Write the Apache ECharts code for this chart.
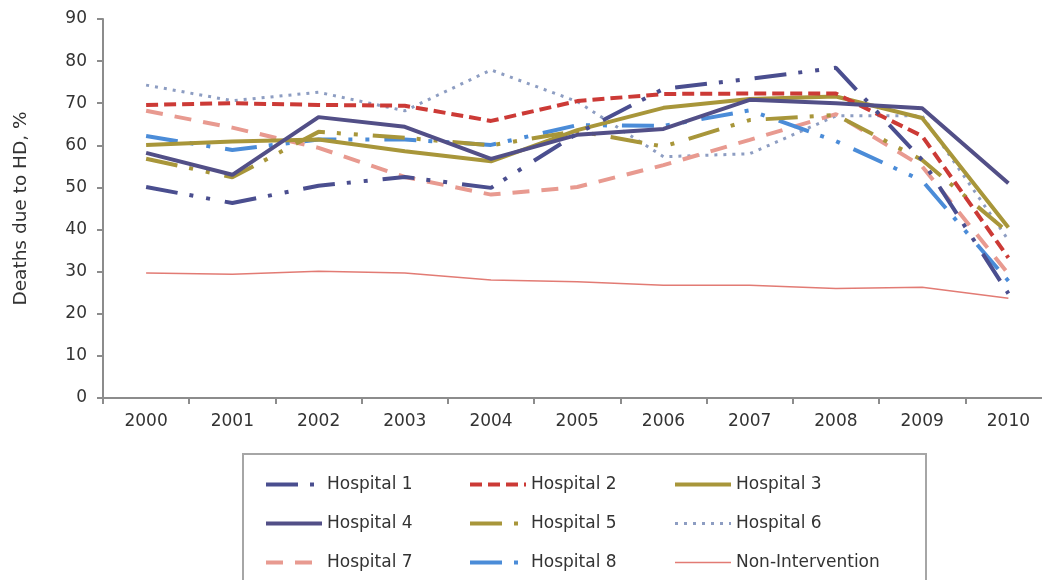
<!DOCTYPE html>
<html>
<head>
    <meta charset="UTF-8">
    <title>Deaths due to HD</title>
    <script type="text/javascript" src="https://cdn.jsdelivr.net/npm/echarts@6/dist/echarts.min.js"></script>
    <style type="text/css">
        body { margin: 0; background: #fff; }
        #main { width: 1042px; height: 580px; }
    </style>
</head>
<body>
<div id="main"></div>
<script>
// 数据
var years = ['2000', '2001', '2002', '2003', '2004', '2005', '2006', '2007', '2008', '2009', '2010'];
var yTicks = [0, 10, 20, 30, 40, 50, 60, 70, 80, 90];
var hospital1 = [50.1, 46.3, 50.4, 52.5, 49.9, 62.8, 73.4, 75.8, 78.4, 56.5, 24.8];
var hospital2 = [69.6, 70.0, 69.6, 69.4, 65.8, 70.5, 72.2, 72.3, 72.3, 62.2, 33.3];
var hospital3 = [60.1, 60.9, 61.4, 58.6, 56.2, 63.6, 68.9, 71.0, 71.6, 66.5, 40.5];
var hospital4 = [58.2, 53.0, 66.7, 64.4, 56.8, 62.5, 63.9, 70.8, 70.0, 68.8, 51.0];
var hospital5 = [56.8, 52.4, 63.2, 61.8, 60.0, 63.4, 59.7, 66.0, 67.2, 56.5, 39.3];
var hospital6 = [74.3, 70.6, 72.6, 68.2, 77.9, 70.4, 57.3, 58.0, 67.0, 67.0, 37.5];
var hospital7 = [68.2, 64.2, 59.4, 52.5, 48.3, 50.1, 55.3, 61.3, 67.4, 55.0, 29.5];
var hospital8 = [62.2, 58.9, 61.4, 61.4, 60.1, 64.8, 64.6, 68.3, 61.0, 51.6, 27.8];
var nonIntervention = [29.7, 29.4, 30.1, 29.7, 28.0, 27.6, 26.8, 26.8, 26.0, 26.3, 23.7];

var font = 'DejaVu Sans, Verdana, sans-serif';
var dashDotDot = [32, 12, 4, 13, 4, 15];

function line(name, data, color, width, type) {
    return {
        name: name,
        type: 'line',
        data: data,
        symbol: 'none',
        animation: false,
        lineStyle: { color: color, width: width, type: type, cap: 'butt' },
        itemStyle: { color: color }
    };
}

// 图例每列三项，线宽单独设定
function legendCol(left, names) {
    return {
        orient: 'vertical',
        left: left,
        top: 476,
        itemWidth: 56,
        itemHeight: 14,
        itemGap: 22,
        padding: 0,
        itemStyle: { opacity: 0 },
        data: names.map(function (n) {
            return { name: n, lineStyle: { width: n === 'Non-Intervention' ? 1.5 : (n === 'Hospital 6' ? 3 : 4) } };
        }),
        textStyle: { fontSize: 17, color: '#333', fontFamily: font }
    };
}

var myChart = echarts.init(document.getElementById('main'));
myChart.setOption({
    animation: false,
    grid: { left: 103, top: 19, bottom: 182, right: -9.5, outerBoundsMode: 'none' },
    legend: [
        legendCol(264, ['Hospital 1', 'Hospital 4', 'Hospital 7']),
        legendCol(468, ['Hospital 2', 'Hospital 5', 'Hospital 8']),
        legendCol(673, ['Hospital 3', 'Hospital 6', 'Non-Intervention'])
    ],
    graphic: [{
        type: 'rect',
        shape: { x: 243, y: 454, width: 683, height: 200 },
        style: { fill: 'none', stroke: '#a6a6a6', lineWidth: 2 },
        silent: true
    }],
    xAxis: {
        type: 'category',
        data: years,
        boundaryGap: true,
        axisLine: { lineStyle: { color: '#8c8c8c', width: 2 } },
        axisTick: { show: true, length: 6, lineStyle: { color: '#8c8c8c', width: 2 } },
        axisLabel: { fontSize: 17, color: '#333', fontFamily: font, margin: 15 },
        splitLine: { show: false }
    },
    yAxis: {
        type: 'value',
        min: yTicks[0],
        max: yTicks[yTicks.length - 1],
        interval: 10,
        name: 'Deaths due to HD, %',
        nameLocation: 'middle',
        nameRotate: 90,
        nameGap: 72,
        nameTextStyle: { fontSize: 18.5, color: '#333', fontFamily: font },
        axisLine: { show: true, lineStyle: { color: '#8c8c8c', width: 2 } },
        axisTick: { show: true, length: 6, lineStyle: { color: '#8c8c8c', width: 2 } },
        axisLabel: { fontSize: 17, color: '#333', fontFamily: font, margin: 16 },
        splitLine: { show: false }
    },
    series: [
        line('Non-Intervention', nonIntervention, '#e27b74', 1.5, 'solid'),
        line('Hospital 6', hospital6, '#8d9dc2', 3, [3, 6]),
        line('Hospital 7', hospital7, '#e89a90', 4, [17, 12]),
        line('Hospital 8', hospital8, '#4b8cd8', 4, dashDotDot),
        line('Hospital 5', hospital5, '#a8963a', 4, dashDotDot),
        line('Hospital 3', hospital3, '#a8963a', 4, 'solid'),
        line('Hospital 2', hospital2, '#cc3a36', 4, [12, 6]),
        line('Hospital 4', hospital4, '#524f87', 4, 'solid'),
        line('Hospital 1', hospital1, '#4a4e8f', 4, dashDotDot)
    ]
});
</script>
</body>
</html>
